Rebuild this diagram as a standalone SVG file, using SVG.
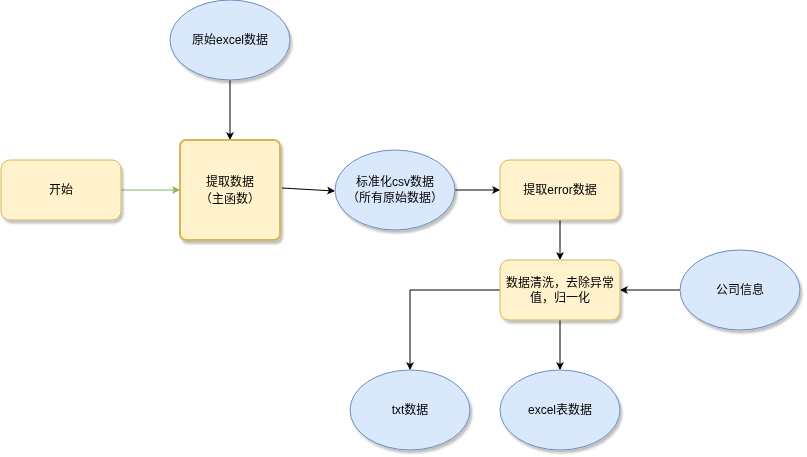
<svg xmlns="http://www.w3.org/2000/svg" width="807" height="457" viewBox="0 0 807 457">
<defs>
<filter id="sh" x="-10%" y="-10%" width="130%" height="130%">
<feGaussianBlur in="SourceAlpha" stdDeviation="1.2"/>
<feOffset dx="2" dy="3" result="b"/>
<feComponentTransfer><feFuncA type="linear" slope="0.25"/></feComponentTransfer>
<feMerge><feMergeNode/><feMergeNode in="SourceGraphic"/></feMerge>
</filter>
<marker id="ab" markerWidth="10" markerHeight="10" refX="8" refY="5" orient="auto" markerUnits="userSpaceOnUse">
<path d="M1,1 L9,5 L1,9 L3,5 Z" fill="#000"/>
</marker>
<marker id="ag" markerWidth="10" markerHeight="10" refX="8" refY="5" orient="auto" markerUnits="userSpaceOnUse">
<path d="M1,1 L9,5 L1,9 L3,5 Z" fill="#82b366"/>
</marker>
</defs>
<style>
.y{fill:#fff2cc;stroke:#d6b656;stroke-width:1}
.b{fill:#dae8fc;stroke:#6c8ebf;stroke-width:1}
.t{font-family:"Liberation Sans","Noto Sans CJK SC",sans-serif;font-size:12px;fill:#000;text-anchor:middle;dominant-baseline:central}
.c{fill:none;stroke:#000;stroke-width:1;marker-end:url(#ab)}
</style>
<rect width="807" height="457" fill="#fff"/>
<g id="connectors">
<path class="c" d="M230,80 L230,139"/>
<path d="M121,190 L179,190" fill="none" stroke="#82b366" stroke-width="1" marker-end="url(#ag)"/>
<path class="c" d="M282,188 L334,191"/>
<path class="c" d="M455,190 L499,190"/>
<path class="c" d="M560,220 L560,259"/>
<path class="c" d="M680,290 L621,290"/>
<path class="c" d="M500,290 L410,290 L410,369"/>
<path class="c" d="M560,320 L560,369"/>
</g>
<g id="start" filter="url(#sh)">
<rect class="y" x="1" y="160" width="120" height="60" rx="9"/>
<text class="t" x="61" y="190">开始</text>
</g>
<g id="excel-src" filter="url(#sh)">
<ellipse class="b" cx="230" cy="40" rx="60" ry="40"/>
<text class="t" x="230" y="40">原始excel数据</text>
</g>
<g id="extract" filter="url(#sh)">
<rect class="y" x="180" y="140" width="100" height="100" rx="6" style="stroke-width:2"/>
<text class="t" x="230" y="182">提取数据</text>
<text class="t" x="230" y="199">（主函数）</text>
</g>
<g id="csv" filter="url(#sh)">
<ellipse class="b" cx="395" cy="190" rx="60" ry="40"/>
<text class="t" x="395" y="182">标准化csv数据</text>
<text class="t" x="395" y="198">（所有原始数据）</text>
</g>
<g id="error" filter="url(#sh)">
<rect class="y" x="500" y="160" width="120" height="60" rx="9"/>
<text class="t" x="560" y="190">提取error数据</text>
</g>
<g id="clean" filter="url(#sh)">
<rect class="y" x="500" y="260" width="120" height="60" rx="9"/>
<text class="t" x="560" y="283">数据清洗，去除异常</text>
<text class="t" x="560" y="298">值，归一化</text>
</g>
<g id="company" filter="url(#sh)">
<ellipse class="b" cx="740" cy="290" rx="60" ry="40"/>
<text class="t" x="740" y="290">公司信息</text>
</g>
<g id="txt" filter="url(#sh)">
<ellipse class="b" cx="410" cy="410" rx="60" ry="40"/>
<text class="t" x="410" y="410">txt数据</text>
</g>
<g id="excel-out" filter="url(#sh)">
<ellipse class="b" cx="560" cy="410" rx="60" ry="40"/>
<text class="t" x="560" y="410">excel表数据</text>
</g>
</svg>
